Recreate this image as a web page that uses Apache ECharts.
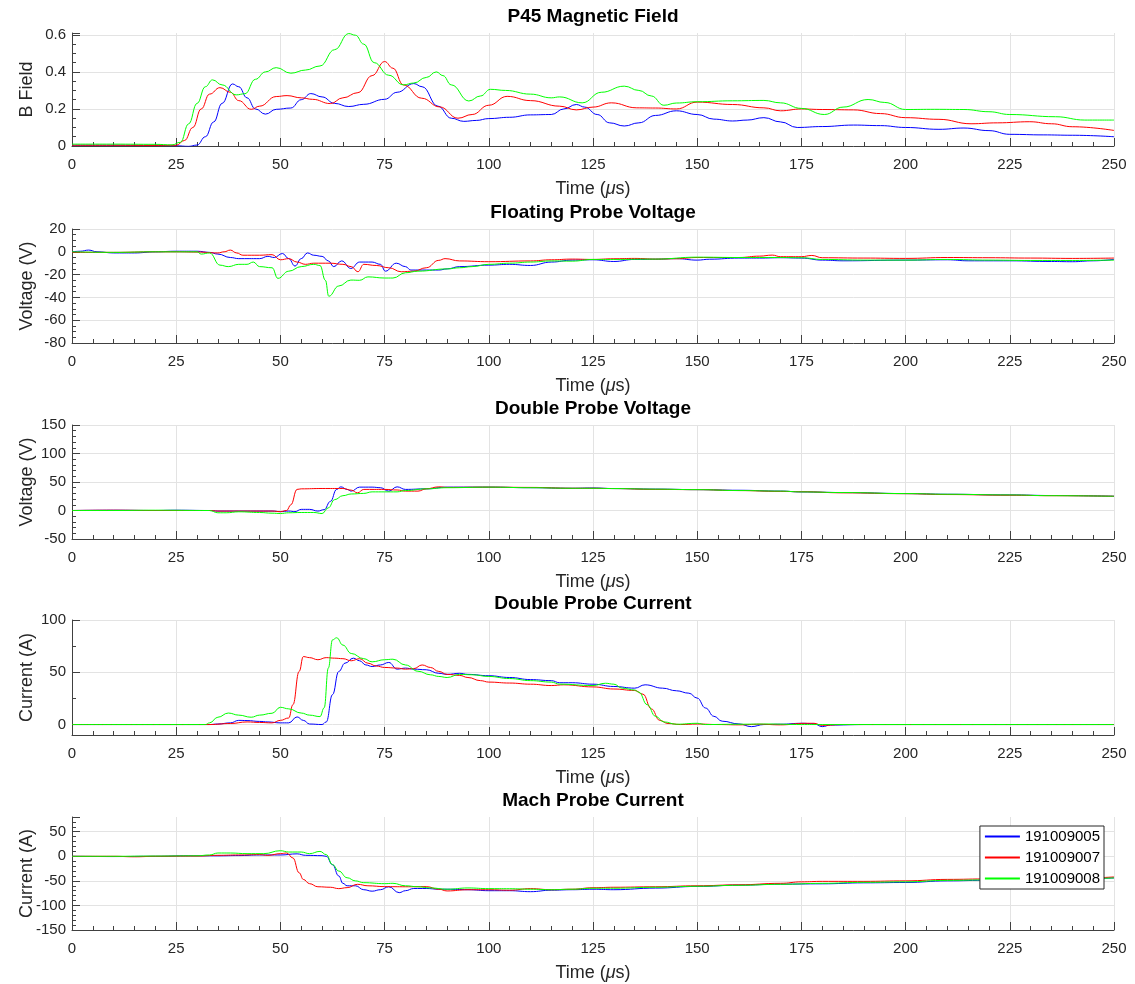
<!DOCTYPE html>
<html>
<head>
<meta charset="utf-8">
<script src="https://cdn.jsdelivr.net/npm/echarts@6/dist/echarts.min.js"></script>
<style>
  html, body { margin: 0; padding: 0; background: #fff; }
  #chart { width: 1135px; height: 984px; }
</style>
</head>
<body>
<div id="chart"></div>
<script>
// Shot numbers (one colour per shot, same order in every panel)
const shotNames = ['191009005', '191009007', '191009008'];
const shotColors = ['#0000ff', '#ff0000', '#00ff00'];

// Panel titles and y-axis labels
const panelTitles = ['P45 Magnetic Field', 'Floating Probe Voltage', 'Double Probe Voltage', 'Double Probe Current', 'Mach Probe Current'];
const yAxisNames = ['B Field', 'Voltage (V)', 'Voltage (V)', 'Current (A)', 'Current (A)'];

// Time axis (µs)
const timeMin = 0, timeMax = 250, timeStep = 25;

// Y-axis ranges per panel (step null = let the axis pick it from splitNumber)
const yMin = [0, -80, -50, -10, -150];
const yMax = [0.61, 20, 150, 100, 80];
const yStep = [0.2, 20, 50, null, 50];

// ---- P45 magnetic field: [time µs, B] ----
const bField005 = [[0,0.004],[10,0.004],[20,0.003],[25,0.001],[28,-0.002],[30,0.005],[32,0.05],[34,0.13],[36,0.23],[38.5,0.335],[40,0.32],[42,0.26],[44,0.2],[46.4,0.172],[49,0.198],[52.5,0.205],[55,0.25],[57.3,0.283],[60,0.265],[63,0.23],[66.4,0.213],[70,0.225],[75,0.252],[78,0.29],[82,0.337],[84,0.32],[87.8,0.215],[91,0.15],[94,0.133],[97,0.138],[100,0.148],[105,0.155],[110,0.168],[115,0.17],[118,0.2],[121,0.224],[123,0.21],[126,0.17],[129,0.125],[132.5,0.108],[136,0.125],[140,0.165],[145,0.19],[150,0.17],[154,0.145],[158.5,0.135],[162,0.14],[166,0.153],[170,0.13],[174,0.1],[180,0.105],[187.5,0.113],[194,0.11],[200,0.1],[208,0.09],[214,0.097],[220,0.083],[225,0.063],[233,0.06],[240,0.058],[250,0.05]];
const bField007 = [[0,0.004],[10,0.004],[20,0.003],[25,0.004],[27,0.03],[29,0.1],[31,0.2],[33,0.28],[35.5,0.315],[38,0.29],[40,0.245],[43,0.198],[45,0.215],[49,0.267],[51.6,0.272],[55,0.26],[57.7,0.252],[62,0.229],[65,0.26],[68.6,0.288],[72,0.38],[75,0.456],[77,0.42],[79.5,0.33],[83.9,0.258],[88.2,0.211],[92.6,0.15],[96,0.17],[100,0.22],[104.4,0.268],[110,0.245],[117,0.215],[121,0.195],[125,0.21],[129.4,0.233],[135.5,0.206],[140,0.205],[145,0.2],[150,0.237],[158.5,0.224],[166,0.206],[170,0.19],[175,0.2],[180,0.197],[187.5,0.195],[194,0.175],[200,0.153],[208,0.144],[215.7,0.12],[222,0.125],[229.8,0.131],[235,0.12],[240,0.104],[250,0.084]];
const bField008 = [[0,0.01],[10,0.01],[20,0.009],[24,0.006],[26,0.02],[28,0.12],[30,0.23],[32,0.32],[33.7,0.357],[36,0.33],[39.4,0.276],[41.5,0.282],[44,0.36],[46.4,0.4],[49,0.423],[52.5,0.393],[56,0.41],[59.5,0.432],[63,0.52],[66.4,0.607],[68,0.598],[70,0.55],[72.5,0.45],[76,0.382],[79.5,0.33],[82,0.34],[85,0.37],[87.4,0.4],[89,0.38],[91,0.33],[95.2,0.243],[98,0.27],[100.4,0.306],[104,0.3],[110,0.28],[115,0.26],[117,0.265],[122.4,0.233],[127,0.29],[132.5,0.323],[136,0.3],[139,0.27],[142,0.22],[145,0.232],[150,0.239],[158.5,0.244],[166,0.246],[170,0.233],[175,0.203],[180.5,0.17],[185,0.21],[191,0.251],[195,0.235],[200,0.197],[207,0.198],[214,0.197],[220,0.185],[225,0.17],[236,0.158],[243,0.14],[250,0.14]];

// ---- Floating probe voltage: [time µs, V] ----
const floatV005 = [[0,0],[2,0.5],[4,1.5],[6,0],[10,-1],[15,-1],[20,0],[25,0.5],[30,0.5],[33,-0.5],[35,-2],[38,-5],[40,-6],[45,-6],[47,-4],[48.5,-5],[50.5,-1.5],[52,-6],[53.5,-12.5],[55,-6],[56.5,-1],[58,-3],[60,-4],[61.5,-8],[62.8,-13],[64.7,-8],[66.9,-14.6],[69,-9],[72,-9],[74,-11],[75.2,-17],[77.8,-10],[80,-13],[81.3,-16],[85,-16],[88,-16],[90,-15],[93,-13],[100,-11.7],[105,-11],[110,-12],[115,-9],[120,-7.3],[125,-7],[130,-8.5],[135,-6.7],[140,-6.5],[145,-6],[150,-7.3],[153,-6.5],[160,-5.5],[165,-5.5],[170,-5.2],[175,-5.5],[180,-7.3],[185,-7.9],[200,-7.3],[210,-7],[215,-7.9],[225,-7.9],[235,-8.5],[240,-8.7],[245,-7.9],[250,-6.7]];
const floatV007 = [[0,-0.5],[10,-0.5],[20,0],[25,0],[30,-0.2],[35,-1],[36.5,0],[38,1.5],[39.5,-1],[41,-3],[45,-3],[48,-2.5],[50,-7],[52,-6],[54,-9],[56,-11],[58,-10],[62,-10],[65,-11],[67,-13],[68.6,-17.5],[70,-11],[73,-12],[76,-14],[79,-17.5],[82,-17],[85,-14],[88,-7.5],[89.5,-6],[93,-8],[100,-8.7],[110,-8],[115,-7],[120,-6.4],[125,-6.7],[130,-6.1],[135,-5.8],[140,-6.4],[145,-6.1],[150,-5],[160,-5],[165,-3.8],[168,-2.9],[170,-4.3],[175,-4.3],[177.5,-3.2],[180,-5.2],[190,-5.5],[200,-5.8],[210,-5],[220,-5.2],[230,-5.5],[240,-5.8],[250,-5.5]];
const floatV008 = [[0,0],[10,-0.5],[20,0],[30,0],[31,-2],[33,-1],[35.5,-11.7],[37.5,-13],[40,-11],[42,-11],[43.5,-9],[45,-13],[48,-14],[49.4,-23.3],[52,-17],[55,-13],[58,-11],[59.5,-12],[60.8,-25],[61.6,-39],[64,-30],[66.9,-24.8],[69,-25],[71,-22],[75,-23],[77,-23],[80,-18.4],[83,-17],[90,-15],[93,-14],[96,-13],[100,-11],[105,-10],[110,-9],[115,-8],[120,-8.2],[125,-6.7],[130,-6.7],[140,-6.4],[150,-4.7],[160,-5],[170,-5],[175,-5.2],[180,-6.7],[190,-7.3],[200,-7.3],[210,-6.7],[220,-7.3],[230,-7.6],[240,-7.6],[250,-7.3]];

// ---- Double probe voltage: [time µs, V] ----
const dblV005 = [[0,0],[10,0.5],[20,0],[25,0.5],[33,0],[35,-1],[48,-1],[50,-2],[52,-1],[53.5,-2],[55,2],[57,2],[59,-1],[60.5,1.5],[62,16],[63.5,37],[64.5,41.5],[66,37],[67,34],[69,41],[72,41],[74,40],[76,34],[78,41.5],[80,37],[85,38],[90,41],[100,41],[110,40],[120,39],[125,39.5],[130,38.5],[140,37.5],[150,36.6],[160,35.5],[170,34],[175,32.6],[185,31.5],[200,29.7],[210,28.5],[225,27.3],[235,26.3],[250,25]];
const dblV007 = [[0,0],[10,0.5],[20,0],[33,0],[35,-1],[45,-1],[48,-1],[50,-2],[51.5,0],[52.5,10],[54,37],[55,38],[60,38.6],[65,38.6],[67,35.7],[68.5,31],[70,37],[75,37],[78,36],[80,34],[83,34],[85,38],[88,41.5],[90,40.5],[100,41],[110,40.5],[120,39],[125,39],[130,38.5],[140,37],[150,36.6],[160,35],[170,33.5],[175,33],[185,31],[200,29.5],[210,28],[225,26.8],[235,26],[250,25]];
const dblV008 = [[0,0],[10,0],[20,0.5],[33,0],[35,-4],[37,-4],[40,-2.3],[45,-3.5],[48,-4.7],[50,-5.3],[52,-4],[55,-3.5],[58,-3.5],[60,-5.3],[61.5,4.7],[63,19],[65,26],[67,29],[70,30],[72,32.7],[75,32.7],[78,32.7],[80,35],[85,38],[90,40],[100,41],[110,40],[120,39],[125,39],[130,38.5],[140,37.5],[150,36.6],[160,35],[170,34],[175,32.6],[185,31.5],[200,29.7],[210,28.5],[225,27.3],[235,26],[250,25]];

// ---- Double probe current: [time µs, A] ----
const dblI005 = [[0,0],[33,0],[35,0.5],[38,1.6],[40,4],[42,3.8],[45,3],[47,2.5],[50,1.6],[52,1.6],[54,7.3],[55.5,4],[57,0.5],[60,0],[61,2.5],[62.5,28.6],[64,50.8],[65.5,58.7],[67.5,63.5],[69,61],[70.5,57],[72,55.5],[74,57],[76,59.4],[78,53],[80,54],[82,53],[85,52.4],[88,49],[90,48],[93,49],[95,48],[100,46.7],[105,45],[110,43],[115,42],[117,40],[120,40],[125,38.6],[130,36.4],[135,34.8],[137.5,38],[141.7,34.8],[145,32.3],[148,30],[150,25.3],[152,15.8],[154,7.9],[156,3.2],[160,0.6],[163,-2],[166,0],[170,0.3],[175,1.2],[178,0.8],[180,-2],[182,-0.5],[190,0],[200,0],[250,0]];
const dblI007 = [[0,0],[33,0],[38,1],[42,2.5],[45,2],[48,1.6],[50,4],[52,6.3],[53,19],[54.5,50.8],[55.5,65],[57,64],[59,62],[61,64],[63,63.5],[65,63],[67,61],[69,63],[71,58.7],[73,56],[75,54.6],[78,54],[80,53],[82,53.5],[84,57],[86,54.6],[88,50.8],[90,48],[93,47],[95,45],[98,42],[100,40.6],[105,39.7],[110,38.6],[115,37.3],[118,38],[125,36],[130,34],[135,32.6],[137,29],[139,15],[141,4],[143,1],[146,0],[150,0.5],[155,0],[160,-0.3],[165,0.3],[170,-0.3],[176,1.2],[178,1.2],[180,-0.8],[185,0],[250,0]];
const dblI008 = [[0,0],[32,0],[33,1.6],[35,7],[37.5,11],[40,9],[43,7],[45,9],[48,10.8],[50,16.5],[52,15],[55,11],[57,9],[59.5,7.6],[60.5,16],[61.5,54],[62.5,81],[63.5,83],[65,76],[67,68],[70,63],[72,60],[75,62],[77,62.5],[80,57],[83,51],[86,47.6],[88,46],[90,45],[93,48],[96,47.6],[100,46],[105,44],[110,42],[115,40.6],[117,38.6],[125,37.3],[128,39.5],[130,38.6],[132,34.8],[135,33],[136,31],[138,19],[140,7.9],[142,2.5],[145,0.3],[150,1.2],[152,0],[160,0.3],[167,0.5],[175,0],[180,0],[250,0]];

// ---- Mach probe current: [time µs, A] ----
const machI005 = [[0,0],[10,-0.5],[20,0],[28,1],[35,1],[40,1.5],[45,2.7],[50,2.7],[54,5],[56,2],[60,1.3],[61,0],[62.5,-17],[64,-40],[65,-55],[66,-60],[68,-60],[70,-68],[72,-71],[74,-68],[76,-62],[78.5,-74],[80,-70],[82,-65.5],[85,-65.5],[88,-67],[90,-67],[95,-68],[100,-70],[105,-70],[110,-72],[115,-69],[120,-68],[125,-67],[130,-68],[140,-64.7],[150,-61.3],[160,-58.7],[170,-56.7],[180,-56],[190,-54],[200,-53.3],[210,-50],[220,-48.7],[230,-47],[240,-46],[250,-44]];
const machI007 = [[0,0],[10,0],[15,-1],[20,0],[30,0.5],[35,2],[40,2.7],[45,3.4],[47,2],[50,5.4],[51.5,6.7],[53,-3.4],[54.5,-33.6],[55.5,-47],[57,-55.7],[59,-62],[62,-63],[64,-65.8],[66,-63.8],[68.5,-57],[71,-60],[75,-61.7],[80,-62],[85,-61.7],[88,-67],[90,-70.5],[95,-68],[100,-68],[105,-69],[110,-65.8],[115,-68],[120,-67],[125,-64],[130,-63],[140,-62],[150,-60],[160,-58],[170,-55],[175,-52],[180,-51],[190,-51],[200,-50],[210,-47],[220,-46],[230,-46],[240,-45],[250,-42]];
const machI008 = [[0,0],[10,0],[20,0.5],[30,1],[33,2.7],[35,6.7],[38,6.7],[42,5.4],[46,5.4],[50,11.4],[52,8.7],[55,8.7],[57,5.4],[59.5,10],[61,3.4],[62.5,-17],[64,-30],[66,-43.6],[68,-50],[70,-53.7],[75,-55.7],[77,-55],[80,-60],[83,-62],[86,-64.4],[90,-67],[95,-64.4],[100,-65.8],[105,-66],[110,-67],[115,-68],[120,-67],[125,-65],[130,-65],[140,-63],[150,-61],[160,-59],[170,-57],[180,-55],[190,-53],[200,-52],[210,-49],[220,-48],[230,-47],[240,-46],[250,-44]];

const panelData = [
  [bField005, bField007, bField008],
  [floatV005, floatV007, floatV008],
  [dblV005, dblV007, dblV008],
  [dblI005, dblI007, dblI008],
  [machI005, machI007, machI008]
];

// ---- layout / style ----
const FONT = 'Liberation Sans, Arial, Helvetica, sans-serif';
const TEXT = '#262626';
const AXIS = '#404040';
const GRIDLINE = '#e3e3e3';
const plotLeft = 72, plotRight = 21;
const plotTops = [33, 229, 425, 620, 817];
const plotHeights = [113, 114, 114, 115, 113];
const yMinorSplit = [4, 4, 5, 2, 5];
const yHideTop = [true, false, false, false, true];
const yHideBottom = [false, false, false, true, false];
const plotCenterX = plotLeft + (1135 - plotLeft - plotRight) / 2;

const grids = [], xAxes = [], yAxes = [], titles = [], series = [];

panelTitles.forEach((t, i) => {
  grids.push({ left: plotLeft, right: plotRight, top: plotTops[i], height: plotHeights[i], containLabel: false });
  titles.push({
    text: t, left: plotCenterX, top: plotTops[i] - 26, textAlign: 'center', padding: 0,
    textStyle: { fontFamily: FONT, fontSize: 19, fontWeight: 'bold', color: '#000' }
  });
  xAxes.push({
    type: 'value', gridIndex: i, min: timeMin, max: timeMax, interval: timeStep,
    name: 'Time ({it|μ}s)', nameLocation: 'middle', nameGap: 34, nameMoveOverlap: false,
    nameTextStyle: { fontFamily: FONT, fontSize: 18, color: TEXT,
      rich: { it: { fontFamily: FONT, fontSize: 18, fontStyle: 'italic', color: TEXT } } },
    axisLine: { show: true, onZero: false, lineStyle: { color: AXIS, width: 1 } },
    axisTick: { show: true, inside: true, length: 8, lineStyle: { color: AXIS } },
    minorTick: { show: true, splitNumber: 5, length: 4, lineStyle: { color: AXIS } },
    axisLabel: { fontFamily: FONT, fontSize: 15, color: TEXT, margin: 11 },
    splitLine: { show: true, lineStyle: { color: GRIDLINE, width: 1 } }
  });
  const yAxis = {
    type: 'value', gridIndex: i, min: yMin[i], max: yMax[i],
    name: yAxisNames[i], nameLocation: 'middle', nameGap: 36, nameMoveOverlap: false,
    nameTextStyle: { fontFamily: FONT, fontSize: 18, color: TEXT },
    axisLine: { show: true, onZero: false, lineStyle: { color: AXIS, width: 1 } },
    axisTick: { show: true, inside: true, length: 8, lineStyle: { color: AXIS } },
    minorTick: { show: true, splitNumber: yMinorSplit[i], length: 4, lineStyle: { color: AXIS } },
    axisLabel: { fontFamily: FONT, fontSize: 15, color: TEXT, margin: 6,
      showMaxLabel: yHideTop[i] ? false : null, showMinLabel: yHideBottom[i] ? false : null },
    splitLine: { show: true, showMaxLine: !yHideTop[i], lineStyle: { color: GRIDLINE, width: 1 } }
  };
  if (yStep[i] !== null) yAxis.interval = yStep[i]; else yAxis.splitNumber = 2;
  yAxes.push(yAxis);
  panelData[i].forEach((d, k) => {
    series.push({
      type: 'line', name: shotNames[k], xAxisIndex: i, yAxisIndex: i,
      data: d, symbol: 'none', smooth: 0.45, smoothMonotone: 'x',
      lineStyle: { color: shotColors[k], width: 1 }, itemStyle: { color: shotColors[k] },
      animation: false, z: 2
    });
  });
});

const chart = echarts.init(document.getElementById('chart'), null, { renderer: 'canvas' });
chart.setOption({
  backgroundColor: '#ffffff',
  animation: false,
  title: titles,
  grid: grids,
  xAxis: xAxes,
  yAxis: yAxes,
  legend: {
    data: shotNames, orient: 'vertical', right: 31, top: 826, z: 10,
    itemWidth: 35, itemHeight: 14, itemGap: 6, padding: [3, 4, 3, 4],
    itemStyle: { opacity: 0 },
    backgroundColor: '#ffffff', borderColor: '#262626', borderWidth: 1, borderRadius: 0,
    textStyle: { fontFamily: FONT, fontSize: 15, color: '#000' }
  },
  series: series
});
</script>
</body>
</html>
